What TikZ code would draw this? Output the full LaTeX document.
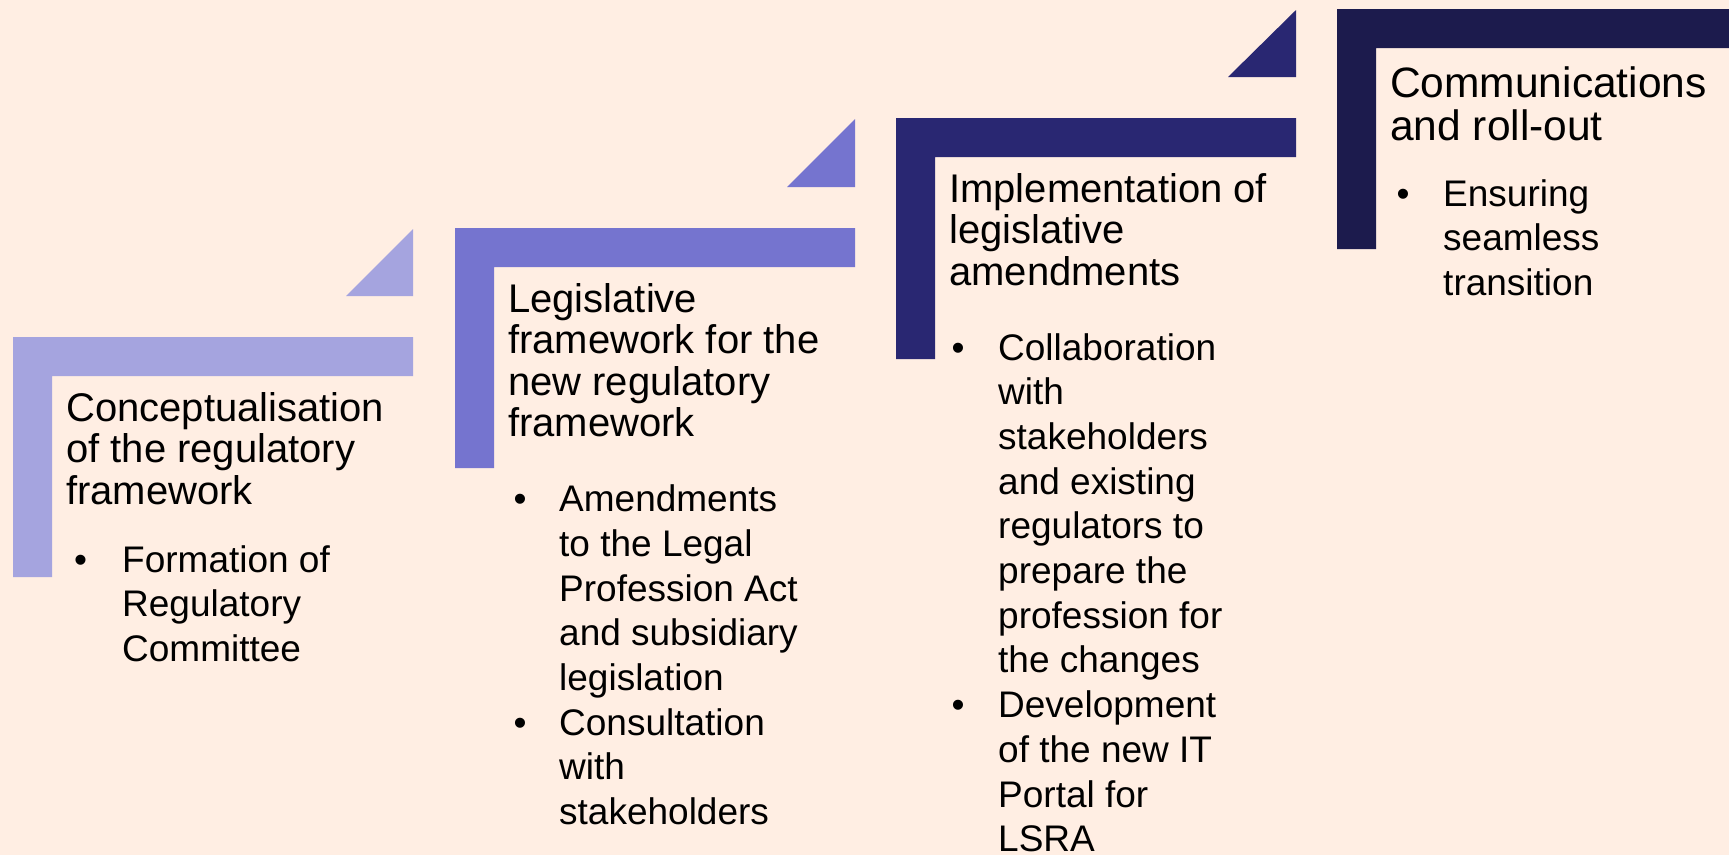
\documentclass[tikz,border=0pt]{standalone}
\usepackage{fontspec}
\setmainfont{Liberation Sans}
\definecolor{bgpeach}{HTML}{FFEEE3}
\definecolor{stepA}{HTML}{A5A4DF}
\definecolor{stepB}{HTML}{7574CF}
\definecolor{stepC}{HTML}{292772}
\definecolor{stepD}{HTML}{1C1B4D}
\newcommand{\stacklines}[1]{\parbox[t]{12cm}{#1}}
\tikzset{
  stagehead/.style={anchor=base west,inner sep=0pt,font=\fontsize{40}{41.5}\selectfont},
  stageitem/.style={anchor=base west,inner sep=0pt,font=\fontsize{37}{44.7}\selectfont},
  stagebullet/.style={anchor=base,inner sep=0pt,font=\fontsize{37}{44.7}\selectfont},
}
\begin{document}
\begin{tikzpicture}[x=1pt,y=-1pt]
\useasboundingbox[fill=bgpeach] (0,0) rectangle (1729,855);
% step 1
\fill[stepA] (13,337)--++(400,0)--++(0,39)--++(-361,0)--++(0,201)--++(-39,0)--cycle;
\fill[stepA] (413,229)--++(0,67)--++(-67,0)--cycle;
\node[stagehead] (head1) at (66,421) {\stacklines{Conceptualisation\\of the regulatory\\framework}};
\node[stagebullet] (dot1) at (80.7,572) {\textbullet};
\node[stageitem] (item1) at (122,572) {\stacklines{Formation of\\Regulatory\\Committee}};
% step 2
\fill[stepB] (455,228)--++(400,0)--++(0,39)--++(-361,0)--++(0,201)--++(-39,0)--cycle;
\fill[stepB] (855,119)--++(0,68)--++(-68,0)--cycle;
\node[stagehead] (head2) at (508,312) {\stacklines{Legislative\\framework for the\\new regulatory\\framework}};
\node[stagebullet] (dot2a) at (520,511.7) {\textbullet};
\node[stageitem] (item2a) at (559,511.7) {\stacklines{Amendments\\to the Legal\\Profession Act\\and subsidiary\\legislation}};
\node[stagebullet] (dot2b) at (520,735.2) {\textbullet};
\node[stageitem] (item2b) at (559,735.2) {\stacklines{Consultation\\with\\stakeholders}};
% step 3
\fill[stepC] (896,118)--++(400,0)--++(0,39)--++(-361,0)--++(0,202)--++(-39,0)--cycle;
\fill[stepC] (1296,10)--++(0,67)--++(-68,0)--cycle;
\node[stagehead] (head3) at (949,202) {\stacklines{Implementation of\\legislative\\amendments}};
\node[stagebullet] (dot3a) at (958,360) {\textbullet};
\node[stageitem] (item3a) at (998,360) {\stacklines{Collaboration\\with\\stakeholders\\and existing\\regulators to\\prepare the\\profession for\\the changes}};
\node[stagebullet] (dot3b) at (958,717.6) {\textbullet};
\node[stageitem] (item3b) at (998,717.6) {\stacklines{Development\\of the new IT\\Portal for\\LSRA}};
% step 4
\fill[stepD] (1337,9)--++(392,0)--++(0,39)--++(-353,0)--++(0,201)--++(-39,0)--cycle;
\node[stagehead,font=\fontsize{42.5}{43.3}\selectfont] (head4) at (1390,97) {\stacklines{Communications\\and roll-out}};
\node[stagebullet] (dot4) at (1403,206) {\textbullet};
\node[stageitem] (item4) at (1443,206) {\stacklines{Ensuring\\seamless\\transition}};
\end{tikzpicture}
\end{document}
